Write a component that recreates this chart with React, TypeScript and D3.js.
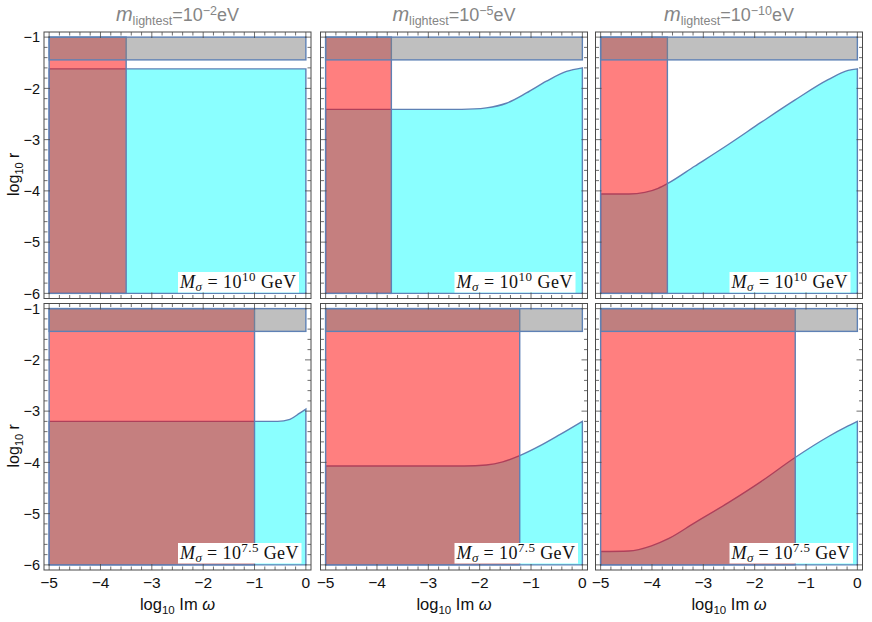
import React from "react";
import * as d3 from "d3";

// ---------- data ----------
const xTicks = [-5, -4, -3, -2, -1, 0];
const yTicks = [-6, -5, -4, -3, -2, -1];
const mLightestExp = ["−2", "−5", "−10"];
const mSigmaExp = ["10", "7.5"];
const grayBand = [-1.444, -1];
const redEdgeTop = [-3.5, -3.72, -3.7];
const redEdgeBottom = [-1.0, -1.22, -1.21];

const curveTop1: [number, number][] = [[-5, -1.62], [0, -1.62]];
const curveTop2: [number, number][] = [
  [-5, -2.41], [-2.6, -2.41], [-2.1, -2.4], [-1.87, -2.38], [-1.48, -2.29],
  [-1.09, -2.09], [-0.7, -1.86], [-0.31, -1.67], [0, -1.6],
];
const curveTop3: [number, number][] = [
  [-5, -4.06], [-4.45, -4.06], [-4.14, -4.03], [-3.88, -3.95], [-3.7, -3.86],
  [-3.17, -3.52], [-2.52, -3.1], [-1.87, -2.66], [-1.22, -2.23], [-0.57, -1.83],
  [-0.18, -1.65], [0, -1.62],
];
const curveBot1: [number, number][] = [
  [-5, -3.2], [-0.55, -3.2], [-0.31, -3.16], [-0.12, -3.04], [0, -2.96],
];
const curveBot2: [number, number][] = [
  [-5, -4.07], [-2.3, -4.07], [-1.87, -4.05], [-1.55, -3.99], [-1.22, -3.87],
  [-0.83, -3.68], [-0.44, -3.46], [0, -3.2],
];
const curveBot3: [number, number][] = [
  [-5, -5.74], [-4.45, -5.73], [-4.01, -5.63], [-3.68, -5.49], [-3.17, -5.18],
  [-2.52, -4.79], [-1.87, -4.37], [-1.22, -3.91], [-0.57, -3.5], [-0.18, -3.29],
  [0, -3.2],
];

const curves = [
  [curveTop1, curveTop2, curveTop3],
  [curveBot1, curveBot2, curveBot3],
];
const redEdges = [redEdgeTop, redEdgeBottom];

// ---------- layout ----------
const colLeft = [44, 320.5, 595.5];
const rowTop = [32, 303.5];
const PW = 267;
const PH = 266.5;
const BLUE = "#5e81b5";
const SANS = "'Liberation Sans', Arial, sans-serif";
const SERIF = "'Liberation Serif', 'Times New Roman', serif";

const x = d3.scaleLinear().domain([-5.1, 0.1]).range([0, PW]);
const y = d3.scaleLinear().domain([-6.1, -0.9]).range([PH, 0]);

const minorX = d3.range(-50, 1, 2).map((v) => v / 10);
const minorY = d3.range(-60, -9, 2).map((v) => v / 10);

function Panel({ r, c }: { r: number; c: number }) {
  const data = curves[r][c];
  const edge = redEdges[r][c];
  const area = d3
    .area<[number, number]>()
    .x((d) => x(d[0]))
    .y0(y(-6))
    .y1((d) => y(d[1]))
    .curve(d3.curveMonotoneX);
  const clipId = `clip-${r}-${c}`;
  const frame = "#4a4a4a";
  const major = 6;
  const minor = 3.5;
  const isMajor = (v: number) => Math.abs(v - Math.round(v)) < 1e-6;
  const boxW = r === 0 ? 121 : 123.5;
  return (
    <g transform={`translate(${colLeft[c]},${rowTop[r]})`}>
      <defs>
        <clipPath id={clipId}>
          <rect x={0} y={0} width={PW} height={PH} />
        </clipPath>
      </defs>
      <g clipPath={`url(#${clipId})`}>
        <path d={area(data) || ""} fill="#00ffff" fillOpacity={0.46} stroke={BLUE} strokeWidth={1.4} />
        <rect
          x={x(-5)}
          y={y(-1)}
          width={x(edge) - x(-5)}
          height={y(-6) - y(-1)}
          fill="#ff0000"
          fillOpacity={0.5}
          stroke={BLUE}
          strokeWidth={1.4}
        />
        <rect
          x={x(-5)}
          y={y(grayBand[1])}
          width={x(0) - x(-5)}
          height={y(grayBand[0]) - y(grayBand[1])}
          fill="#808080"
          fillOpacity={0.5}
          stroke={BLUE}
          strokeWidth={1.4}
        />
      </g>
      {/* mass label */}
      <rect x={134} y={r === 0 ? 240 : 239.5} width={boxW} height={20.5} fill="#ffffff" />
      <text
        x={136}
        y={r === 0 ? 255.5 : 255}
        textLength={boxW - 5}
        lengthAdjust="spacing"
        fontFamily={SERIF}
        fontSize={18}
        fill="#111"
      >
        <tspan fontStyle="italic">M</tspan>
        <tspan fontStyle="italic" fontSize={13} dy={3}>σ</tspan>
        <tspan dy={-3}>{" = 10"}</tspan>
        <tspan fontSize={13} dy={-7}>{mSigmaExp[r]}</tspan>
        <tspan dy={7}>{" GeV"}</tspan>
      </text>
      {/* frame */}
      <rect x={0} y={0} width={PW} height={PH} fill="none" stroke={frame} strokeWidth={1} />
      {minorX.map((v) => {
        const len = isMajor(v) ? major : minor;
        return (
          <g key={`xt${v}`} stroke={frame} strokeWidth={0.8}>
            <line x1={x(v)} x2={x(v)} y1={PH} y2={PH - len} />
            <line x1={x(v)} x2={x(v)} y1={0} y2={len} />
          </g>
        );
      })}
      {minorY.map((v) => {
        const len = isMajor(v) ? major : minor;
        return (
          <g key={`yt${v}`} stroke={frame} strokeWidth={0.8}>
            <line x1={0} x2={len} y1={y(v)} y2={y(v)} />
            <line x1={PW} x2={PW - len} y1={y(v)} y2={y(v)} />
          </g>
        );
      })}
      {c === 0 &&
        yTicks.map((v) => (
          <text
            key={`yl${v}`}
            x={-4}
            y={y(v)}
            dy="0.36em"
            textAnchor="end"
            fontFamily={SANS}
            fontSize={14.5}
            fill="#111"
          >
            {v < 0 ? `−${Math.abs(v)}` : `${v}`}
          </text>
        ))}
      {r === 1 &&
        xTicks.map((v) => (
          <text
            key={`xl${v}`}
            x={x(v)}
            y={PH + 18}
            textAnchor="middle"
            fontFamily={SANS}
            fontSize={15.5}
            fill="#111"
          >
            {v < 0 ? `−${Math.abs(v)}` : `${v}`}
          </text>
        ))}
      {r === 0 && (
        <text x={PW / 2} y={-11} textAnchor="middle" fontFamily={SANS} fontSize={18} fill="#858585">
          <tspan fontStyle="italic" fontSize={20}>m</tspan>
          <tspan fontSize={12.5} dy={4}>lightest</tspan>
          <tspan dy={-4}>=10</tspan>
          <tspan fontSize={12.5} dy={-6}>{mLightestExp[c]}</tspan>
          <tspan dy={6}>eV</tspan>
        </text>
      )}
      {r === 1 && (
        <text x={PW / 2} y={PH + 40} textAnchor="middle" fontFamily={SANS} fontSize={16.5} fill="#111">
          <tspan>log</tspan>
          <tspan fontSize={11.5} dy={4}>10</tspan>
          <tspan dy={-4}>{" Im "}</tspan>
          <tspan fontStyle="italic">ω</tspan>
        </text>
      )}
      {c === 0 && (
        <text
          transform={`translate(${19 - colLeft[0]},${PH / 2 + 9}) rotate(-90)`}
          textAnchor="middle"
          fontFamily={SANS}
          fontSize={16}
          fill="#111"
        >
          <tspan>log</tspan>
          <tspan fontSize={11} dy={4}>10</tspan>
          <tspan dy={-4}>{" r"}</tspan>
        </text>
      )}
    </g>
  );
}

export default function App() {
  return (
    <svg
      width={872}
      height={622}
      style={{ position: "absolute", left: 0, top: 0, background: "#ffffff" }}
    >
      <rect width={872} height={622} fill="#ffffff" />
      {[0, 1].map((r) => [0, 1, 2].map((c) => <Panel key={`${r}-${c}`} r={r} c={c} />))}
    </svg>
  );
}
